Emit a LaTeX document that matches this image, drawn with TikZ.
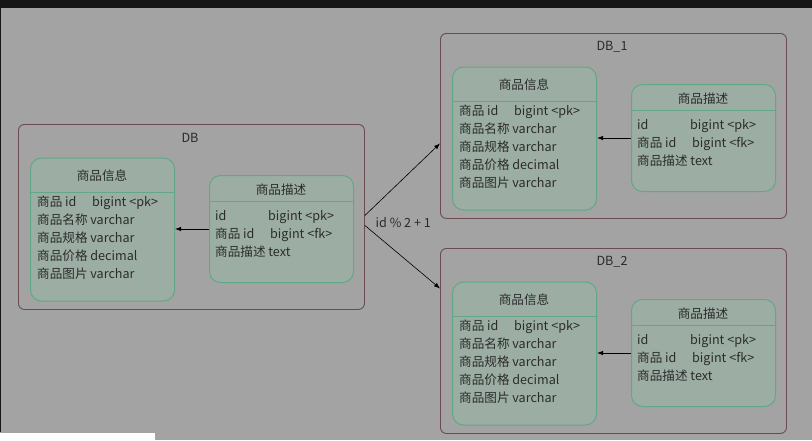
\documentclass[tikz,border=0pt]{standalone}
\usepackage{fontspec}
\setmainfont{Noto Sans CJK SC}
\usetikzlibrary{arrows.meta}
\definecolor{bgc}{HTML}{A3A3A3}
\definecolor{barc}{HTML}{151515}
\definecolor{tblfill}{HTML}{9CAEA4}
\definecolor{tbledge}{HTML}{62A886}
\definecolor{dbedge}{HTML}{6A4C50}
\definecolor{txtc}{HTML}{2B2B2B}

\tikzset{
  txt/.style={inner sep=0pt, text=txtc, font=\fontsize{12.6}{14}\selectfont},
  rowtxt/.style={txt, anchor=west, text height=9pt, text depth=3pt},
  dbbox/.style={draw=dbedge, rounded corners=6pt, line width=0.9pt, inner sep=0pt, anchor=north west},
  tblbox/.style={draw=tbledge, fill=tblfill, rounded corners=11pt, line width=1pt, inner sep=0pt, anchor=north west},
  fkarrow/.style={draw=black, line width=0.8pt, -{Latex[length=6pt,width=4.5pt]}},
  shard/.style={draw=black, line width=0.6pt, -{Latex[length=6pt,width=4.5pt]}}
}

\begin{document}
\begin{tikzpicture}[x=1pt, y=-1pt]
  \useasboundingbox (0,0) rectangle (812,440);
  \fill[bgc] (0,0) rectangle (812,440);
  \fill[barc] (0,0) rectangle (812,8);
  \fill[barc] (0,8) rectangle (1.2,432);
  \fill[white] (0,432.5) rectangle (155,440);

  % one database with its two tables
  \foreach \nm/\ttl/\dx/\dy in {db/DB/18/124, dbA/DB\_1/440/33, dbB/DB\_2/440/248} {
    \begin{scope}[shift={(\dx,\dy)}]
      \node[dbbox, minimum width=346pt, minimum height=185pt] (\nm) at (0,0) {};
      \node[txt] (\nm-t) at (172,14) {\ttl};
      % goods info
      \node[tblbox, minimum width=144pt, minimum height=143pt] (\nm-info) at (12,33.5) {};
      \node[txt] (\nm-info-t) at (84,52) {商品信息};
      \coordinate (\nm-ih) at (0,68.5);
      \draw[tbledge, line width=1pt] (\nm-info.west |- \nm-ih) -- (\nm-info.east |- \nm-ih);
      \foreach \r [count=\i] in {{\makebox[55pt][l]{商品 id}bigint <pk>}, 商品名称 varchar,
          商品规格 varchar, 商品价格 decimal, 商品图片 varchar}
        \node[rowtxt] (\nm-info-\i) at (19,61+18*\i) {\r};
      % goods description
      \node[tblbox, minimum width=144pt, minimum height=107pt] (\nm-desc) at (191,51) {};
      \node[txt] (\nm-desc-t) at (263,66) {商品描述};
      \coordinate (\nm-dh) at (0,77);
      \draw[tbledge, line width=1pt] (\nm-desc.west |- \nm-dh) -- (\nm-desc.east |- \nm-dh);
      \foreach \r [count=\i] in {{\makebox[53pt][l]{id}bigint <pk>},
          {\makebox[55pt][l]{商品 id}bigint <fk>}, 商品描述 text}
        \node[rowtxt] (\nm-desc-\i) at (197,75+18*\i) {\r};
      \draw[fkarrow] (\nm-desc.west) -- (\nm-desc.west -| \nm-info.east);
    \end{scope}
  }

  % sharding
  \draw[shard] ([yshift=1.5pt]db.east) -- ([yshift=-17.5pt]dbA.west);
  \draw[shard] ([yshift=-8.5pt]db.east) -- ([yshift=52.5pt]dbB.west);
  \node[txt, anchor=west] (shardlbl) at (375.5,223) {id \% 2 + 1};
\end{tikzpicture}
\end{document}
